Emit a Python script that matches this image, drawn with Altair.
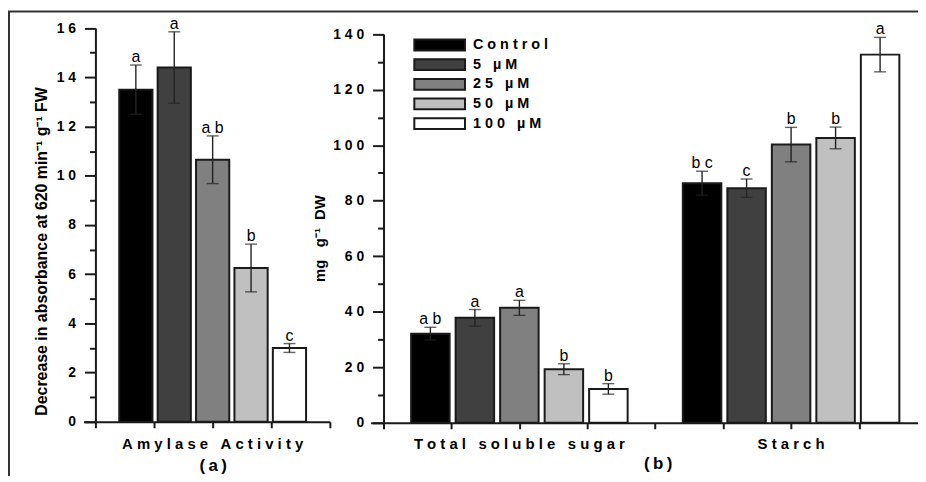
import altair as alt
import pandas as pd

FONT = "Liberation Sans"
NB = "\u00a0"
INK = "#1a1a1a"

treatments = ["Control", "5 µM", "25 µM", "50 µM", "100 µM"]
legend_labels = ["C o n t r o l", "5" + NB * 3 + "µ M", "2 5" + NB * 3 + "µ M",
                 "5 0" + NB * 3 + "µ M", "1 0 0" + NB * 3 + "µ M"]
fills = ["#000000", "#404040", "#808080", "#c0c0c0", "#ffffff"]

groups_a = ["Amylase Activity"]
amylase_mean = [13.5, 14.4, 10.65, 6.25, 3.0]
amylase_err = [1.0, 1.45, 0.97, 0.97, 0.18]
amylase_sig = ["a", "a", "a b", "b", "c"]

groups_b = ["Total soluble sugar", "Starch"]
tss_mean = [32.1, 37.8, 41.4, 19.3, 12.2]
tss_err = [2.3, 3.0, 2.7, 1.95, 1.9]
tss_sig = ["a b", "a", "a", "b", "b"]
starch_mean = [86.3, 84.5, 100.2, 102.6, 132.6]
starch_err = [4.3, 3.3, 6.2, 3.9, 6.2]
starch_sig = ["b c", "c", "b", "b", "a"]

y_major_a = list(range(0, 17, 2))
y_minor_a = list(range(1, 16, 2))
y_major_b = list(range(0, 141, 20))
y_minor_b = list(range(10, 131, 20))
x_ticks_a = [0, 1, 2, 3, 4]
x_ticks_b = [0, 1, 2, 3, 4, 5, 6, 7, 8]


def frame_rows(group, means, errs, sigs):
    return [{"group": group, "treatment": t, "mean": m, "lo": m - e, "hi": m + e, "sig": s}
            for t, m, e, s in zip(treatments, means, errs, sigs)]


df_a = pd.DataFrame(frame_rows(groups_a[0], amylase_mean, amylase_err, amylase_sig))
df_b = pd.DataFrame(frame_rows(groups_b[0], tss_mean, tss_err, tss_sig)
                    + frame_rows(groups_b[1], starch_mean, starch_err, starch_sig))

spaced = "join(split(datum.label, ''), '" + NB + "')"

color = alt.Color("treatment:N", sort=treatments,
                  scale=alt.Scale(domain=treatments, range=fills), legend=None)


def panel(df, groups, x_range, x_off, x_title, xtitle_x, xtitle_y, xlabel_pad,
          y_domain, y_range, y_values, y_off, y_title, ytitle_x, ytitle_y, ytitle_size):
    xaxis = alt.Axis(orient="bottom", offset=x_off, title=x_title, labelAngle=0,
                     labelExpr=spaced, labelLimit=600, ticks=False, domain=False,
                     labelFont=FONT, labelFontWeight="bold", labelFontSize=15,
                     labelColor="black", labelBaseline="alphabetic", labelPadding=xlabel_pad,
                     titleFont=FONT, titleFontWeight="bold", titleFontSize=17,
                     titleColor="black", titleBaseline="alphabetic", titleAlign="center",
                     titleX=xtitle_x, titleY=xtitle_y)
    X = alt.X("group:N", sort=groups, axis=xaxis,
              scale=alt.Scale(domain=groups, range=x_range, paddingInner=0, paddingOuter=0))
    XO = alt.XOffset("treatment:N", sort=treatments,
                     scale=alt.Scale(domain=treatments, paddingInner=0.135, paddingOuter=0.62))
    yscale = alt.Scale(domain=y_domain, range=y_range, nice=False, zero=True)
    yaxis = alt.Axis(orient="left", offset=y_off, values=y_values, grid=False,
                     labelExpr=spaced, tickSize=11,
                     tickWidth=2, tickColor=INK, domainColor=INK, domainWidth=2,
                     labelPadding=9, labelFont=FONT, labelFontSize=14, labelFontWeight="bold",
                     labelColor="black", title=y_title, titleFont=FONT, titleFontSize=ytitle_size,
                     titleFontWeight="bold", titleColor="black", titleX=ytitle_x, titleY=ytitle_y,
                     titleBaseline="alphabetic", titleAlign="center", titleAngle=270)

    def Y(field):
        return alt.Y(field, scale=yscale, axis=yaxis)

    bars = alt.Chart().mark_bar(stroke=INK, strokeWidth=2).encode(
        x=X, xOffset=XO, y=Y("mean:Q"), fill=color)
    rules = alt.Chart().mark_rule(color="#222222", strokeWidth=1.4).encode(
        x=X, xOffset=XO, y=Y("lo:Q"), y2="hi:Q")
    caps = alt.Chart().transform_fold(["lo", "hi"], as_=["which", "v"]).mark_tick(
        color="#222222", size=12, thickness=1.4).encode(x=X, xOffset=XO, y=Y("v:Q"))
    text = alt.Chart().mark_text(baseline="alphabetic", dy=-3, font=FONT, fontSize=16,
                                 color="black").encode(x=X, xOffset=XO, y=Y("hi:Q"), text="sig:N")
    return alt.layer(bars, rules, caps, text, data=df)


def x_tick_layer(values, lead, x_range, x_off):
    # Origin-style bottom axis: evenly spaced ticks, line starting a little left of the y axis
    return alt.Chart(pd.DataFrame({"t": values})).mark_point(opacity=0).encode(
        x=alt.X("t:Q", scale=alt.Scale(domain=[values[0] - lead, values[-1]], range=x_range,
                                       nice=False, zero=False),
                axis=alt.Axis(orient="bottom", offset=x_off, values=values, labels=False,
                              domain=True, domainColor=INK, domainWidth=2,
                              tickSize=6, tickWidth=2, tickColor=INK,
                              grid=False, title="")),
        y=alt.value(0))


def y_minor_layer(values, y_domain, y_range, y_off):
    return alt.Chart(pd.DataFrame({"t": values})).mark_point(opacity=0).encode(
        y=alt.Y("t:Q", scale=alt.Scale(domain=y_domain, range=y_range, nice=False, zero=True),
                axis=alt.Axis(orient="left", offset=y_off, values=values, labels=False,
                              domain=False, tickSize=6, tickWidth=2, tickColor=INK,
                              grid=False, title="")),
        x=alt.value(0))


W, H = 916, 468

left = panel(df_a, groups_a, [88, 324], 415 - H, "(\u2009a\u2009)", 206, 49, 27,
             [0, 16], [415, 18.7], y_major_a, -88,
             "Decrease in absorbance at 620 min⁻¹ g⁻¹ FW", -49, 243, 16)
right = panel(df_b, groups_b, [378, 925], 416 - H, "(\u2009b\u2009)", 654, 46, 26,
              [0, 140], [416, 24.7], y_major_b, -378,
              "mg" + NB * 3 + "g⁻¹" + NB * 2 + "DW", -59, 230, 15)

frame = alt.Chart(pd.DataFrame({"k": [0]})).mark_rect(
    filled=False, stroke="#333333", strokeWidth=2).encode(
    x=alt.value(1), x2=alt.value(3000), y=alt.value(2), y2=alt.value(3000))

df_leg = pd.DataFrame({"treatment": treatments, "label": legend_labels})
leg_y = alt.Y("treatment:N", sort=treatments, axis=None,
              scale=alt.Scale(domain=treatments, range=[25.8, 124.7],
                              paddingInner=0.45, paddingOuter=0.225))
leg_box = alt.Chart(df_leg).mark_rect(stroke=INK, strokeWidth=2).encode(
    x=alt.value(409), x2=alt.value(460), y=leg_y, fill=color)
leg_txt = alt.Chart(df_leg).mark_text(align="left", baseline="middle", font=FONT,
                                      fontSize=14.5, fontWeight="bold", color="black").encode(
    x=alt.value(468), y=leg_y, text="label:N")

chart = alt.layer(
    frame,
    left, x_tick_layer(x_ticks_a, 0.2, [76, 324], 415 - H),
    y_minor_layer(y_minor_a, [0, 16], [415, 18.7], -88),
    right, x_tick_layer(x_ticks_b, 0.19, [365, 925], 416 - H),
    y_minor_layer(y_minor_b, [0, 140], [416, 24.7], -378),
    leg_box, leg_txt,
).resolve_scale(x="independent", y="independent", xOffset="independent").properties(
    width=W, height=H, padding=0, autosize=alt.AutoSizeParams(type="none")
).configure_view(stroke=None)

chart.save("out.html", embed_options={"renderer": "svg", "actions": False})
